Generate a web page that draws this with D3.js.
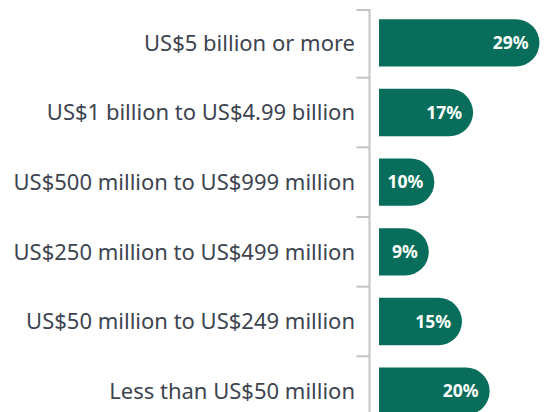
<!DOCTYPE html>
<html>
<head>
<meta charset="utf-8">
<script src="https://cdn.jsdelivr.net/npm/d3@7"></script>
<style>
  body { margin: 0; background: #fff; }
  #chart { width: 545px; height: 412px; overflow: hidden; }
</style>
</head>
<body>
<div id="chart"></div>
<script>
let categories = [
    "US$5 billion or more",
    "US$1 billion to US$4.99 billion",
    "US$500 million to US$999 million",
    "US$250 million to US$499 million",
    "US$50 million to US$249 million",
    "Less than US$50 million"
]
let shares = [29, 17, 10, 9, 15, 20]
let valueLabels = ["29%", "17%", "10%", "9%", "15%", "20%"]

function displayData() {
    let width = 545,
        height = 412;
    let axisX = 369.5,
        barX = 379;
    let svg = d3.select("#chart").append("svg")
        .attr("width", width)
        .attr("height", height)

    let yScale = d3.scaleBand()
        .domain(categories)
        .range([8, 426])
        .paddingInner(0.32)
        .paddingOuter(0.16)
    let xScale = d3.scaleLinear()
        .domain([0, 30])
        .range([barX, barX + 166])

    let step = yScale.step()
    let gap = step * yScale.paddingInner()

    // category separators (axis ticks)
    svg.selectAll(".tick-line")
        .data(categories)
        .enter()
        .append("line")
        .attr("class", "tick-line")
        .attr("x1", axisX - 13)
        .attr("x2", axisX)
        .attr("y1", function(d, i) { return i == 0 ? 10 : yScale(d) - gap / 2; })
        .attr("y2", function(d, i) { return i == 0 ? 10 : yScale(d) - gap / 2; })
        .attr("stroke", "#c4c4c6")
        .attr("stroke-width", 2)

    svg.append("line")
        .attr("x1", axisX)
        .attr("x2", axisX)
        .attr("y1", 9)
        .attr("y2", height)
        .attr("stroke", "#c4c4c6")
        .attr("stroke-width", 2)

    // category labels
    svg.selectAll(".cat")
        .data(categories)
        .enter()
        .append("text")
        .attr("class", "cat")
        .attr("x", 355)
        .attr("y", function(d) { return yScale(d) + yScale.bandwidth() / 2; })
        .attr("dy", "0.35em")
        .attr("text-anchor", "end")
        .attr("font-family", "'Noto Sans', 'Open Sans', sans-serif")
        .attr("font-size", "22px")
        .attr("fill", "#3d4450")
        .text(function(d) { return d; })

    // bars with rounded right end
    let bh = yScale.bandwidth()
    let r = bh / 2
    svg.selectAll(".bar")
        .data(shares)
        .enter()
        .append("path")
        .attr("class", "bar")
        .attr("fill", "#086e5b")
        .attr("d", function(d, i) {
            let y0 = yScale(categories[i])
            let x0 = xScale(0)
            let x1 = xScale(d)
            return "M" + x0 + "," + y0 +
                "H" + (x1 - r) +
                "A" + r + "," + r + " 0 0 1 " + x1 + "," + (y0 + r) +
                "A" + r + "," + r + " 0 0 1 " + (x1 - r) + "," + (y0 + bh) +
                "H" + x0 + "Z"
        })

    // value labels
    svg.selectAll(".val")
        .data(shares)
        .enter()
        .append("text")
        .attr("class", "val")
        .attr("x", function(d) { return xScale(d) - 11; })
        .attr("y", function(d, i) { return yScale(categories[i]) + bh / 2; })
        .attr("dy", "0.36em")
        .attr("text-anchor", "end")
        .attr("font-family", "'Noto Sans', 'Open Sans', sans-serif")
        .attr("font-weight", "bold")
        .attr("font-size", "17.5px")
        .attr("fill", "#ffffff")
        .text(function(d, i) { return valueLabels[i]; })
}

displayData()
</script>
</body>
</html>
